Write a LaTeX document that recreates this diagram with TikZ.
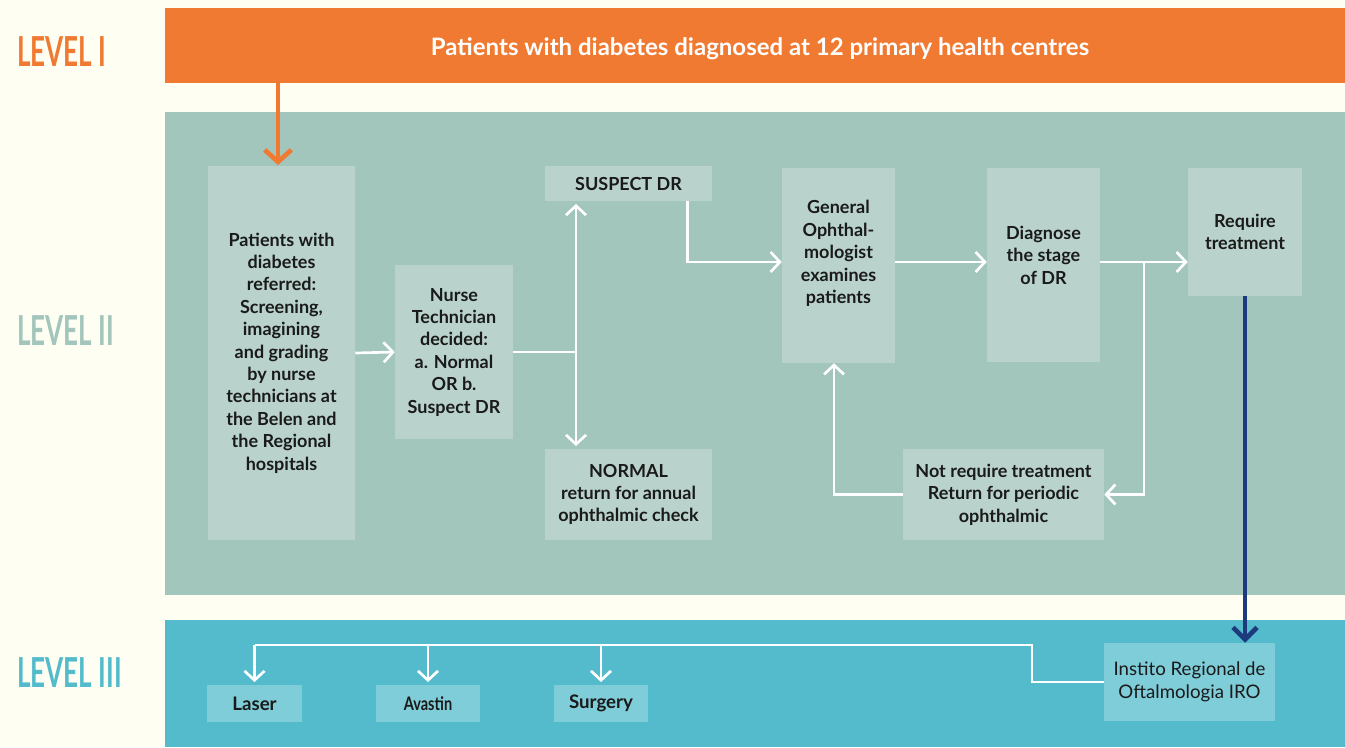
\documentclass[tikz,border=0pt]{standalone}
\usepackage{fontspec}
\setmainfont{Lato}
\newfontfamily\levelfont[FakeStretch=0.63]{Lato}
\newfontfamily\narrowfont[FakeStretch=0.78]{Lato}
\usetikzlibrary{
  arrows.meta,  % Straight Barb 箭头
  positioning   % 节点相对定位
}
\definecolor{cream}{HTML}{FEFEF3}
\definecolor{lvlorange}{HTML}{F07A31}
\definecolor{lvlgreen}{HTML}{A2C5BC}
\definecolor{lvlblue}{HTML}{53BBCC}
\definecolor{boxgreen}{HTML}{B9D3CC}
\definecolor{boxblue}{HTML}{7FCDD9}
\definecolor{navy}{HTML}{1E3A7F}
\definecolor{ink}{HTML}{1A1A1A}

\tikzset{
  boxsize/.style 2 args={minimum width=#1*0.75pt, minimum height=#2*0.75pt},
  boxtext/.style={text=ink, align=center, inner sep=0pt,
    font=\bfseries\fontsize{13.5}{16.8}\selectfont},
  stepbox/.style={boxtext, fill=boxgreen},
  carebox/.style={boxtext, fill=boxblue},
  levellabel/.style={anchor=west, inner sep=0pt,
    font=\levelfont\bfseries\fontsize{31}{31}\selectfont},
  flow/.style={draw=white, line width=2pt, ->, line join=miter},
}

\begin{document}
\begin{tikzpicture}[x=0.75pt, y=-0.75pt, % 以像素为单位 (y 向下)
  >={Straight Barb[length=7pt, width=15pt]}]

  % =============== 背景与三层色带 ===============
  \useasboundingbox[fill=cream] (0,0) rectangle (1345,747);
  \fill[lvlgreen] (165,112) rectangle (1345,595);
  \fill[lvlblue] (165,620) rectangle (1345,747);

  \node[levellabel, text=lvlorange] (lvl1) at (17,52) {LEVEL I};
  \node[levellabel, text=lvlgreen] (lvl2) at (17,331) {LEVEL II};
  \node[levellabel, text=lvlblue] (lvl3) at (17,673) {LEVEL III};

  % =============== LEVEL I ===============
  \node[fill=lvlorange, boxsize={1180}{75}] (title) at (755,45.5) {};
  \node[text=white, font=\bfseries\fontsize{18}{20}\selectfont] (titletext) at (760,49)
    {Patients with diabetes diagnosed at 12 primary health centres};

  % =============== LEVEL II ===============
  \node[stepbox, boxsize={147}{374}] (patients) at (281.5,353)
    {Patients with\\diabetes\\referred:\\Screening,\\imagining\\and grading\\by nurse\\technicians at\\the Belen and\\the Regional\\hospitals};
  \node[stepbox, boxsize={118}{174}] (nurse) at (454,352)
    {Nurse\\Technician\\decided:\\a. Normal\\OR b.\\Suspect DR};
  \node[stepbox, boxsize={167}{35}] (suspect) at (628.5,183.5) {SUSPECT DR};
  \node[stepbox, boxsize={167}{91}] (normal) at (628.5,494.5)
    {NORMAL\\return for annual\\ophthalmic check};
  % 文字略高于框中心
  \node[stepbox, boxsize={113}{195},
    label={[boxtext, yshift=9pt]center:General\\Ophthal-\\mologist\\examines\\patients}]
    (general) at (838.5,265.5) {};
  \node[stepbox, boxsize={113}{194},
    label={[boxtext, yshift=7.5pt]center:Diagnose\\the stage\\of DR}]
    (diagnose) at (1043.5,265) {};
  \node[stepbox, boxsize={114}{128}] (require) at (1245,232)
    {Require\\treatment};
  \node[stepbox, boxsize={201}{91}] (notreq) at (1003.5,494.5)
    {Not require treatment\\Return for periodic\\ophthalmic};

  \coordinate (split) at (576,352);
  \coordinate (branch) at (1144,262);

  \draw[lvlorange, line width=3.5pt, ->, >={Straight Barb[length=9pt, width=20pt]}]
    (title.south -| 278,0) -- (278,165);
  \draw[flow] (patients.east) -- (nurse.west);
  \draw[flow, -] (nurse.east) -- (split);
  \draw[flow, <->, shorten <=2pt, shorten >=2pt]
    (split |- suspect.south) -- (split |- normal.north);
  \draw[flow] ([xshift=-25*0.75pt]suspect.south east) |- (general.west |- branch);
  \draw[flow] (general.east |- branch) -- (diagnose.west |- branch);
  \draw[flow] (diagnose.east |- branch) -- (require.west |- branch);
  \draw[flow] (branch) |- (notreq.east);
  \draw[flow] (notreq.west) -| ([xshift=-4.5*0.75pt]general.south);

  % =============== LEVEL III ===============
  \node[carebox, boxsize={171}{78}, font=\fontsize{14}{17}\selectfont] (iro) at (1189.5,682)
    {Instito Regional de\\Oftalmologia IRO};
  \node[carebox, boxsize={95}{37}, font=\bfseries\fontsize{14}{16}\selectfont]
    (laser) at (254.5,703.5) {Laser};
  \node[carebox, boxsize={104}{37}, font=\narrowfont\bfseries\fontsize{14}{16}\selectfont]
    (avastin) at (428,703.5) {Avastin};
  \node[carebox, boxsize={94}{37}, font=\bfseries\fontsize{14}{16}\selectfont]
    (surgery) at (601,703.5) {Surgery};

  \draw[navy, line width=3.5pt, ->, >={Straight Barb[length=9pt, width=18pt]}]
    (require.south) -- (require.south |- iro.north);

  \coordinate (bus) at (1032,645);
  \draw[flow, -] (iro.west) -| (bus) -- (laser.north |- bus);
  \foreach \t in {laser, avastin, surgery}
    \draw[flow, shorten >=2pt] (\t.north |- bus) -- (\t.north);

\end{tikzpicture}
\end{document}
